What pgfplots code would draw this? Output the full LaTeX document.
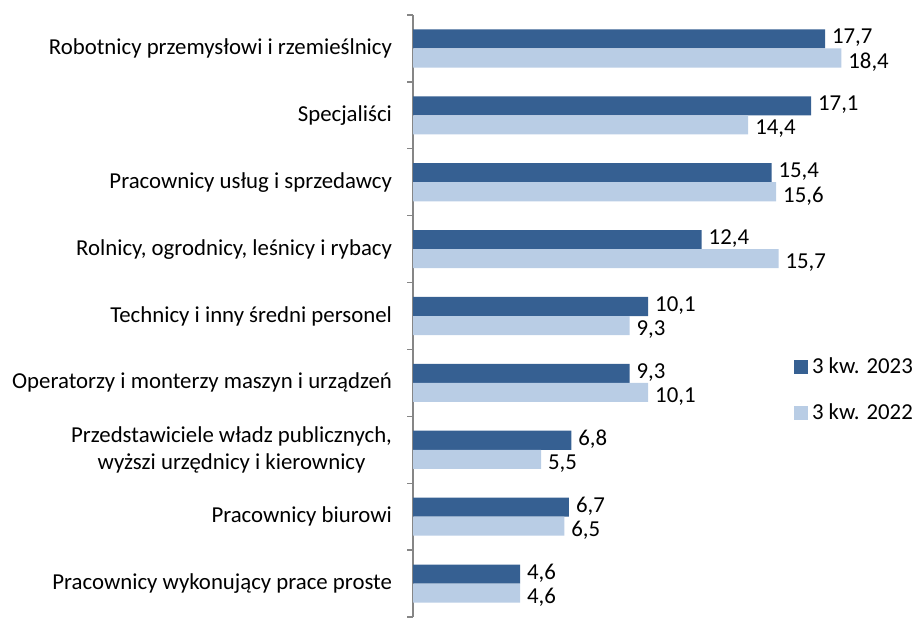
\documentclass[border=0pt]{standalone}
\usepackage{fontspec}
\setmainfont{Carlito}
\usepackage{pgfplots}
\pgfplotsset{compat=1.18}
\definecolor{darkb}{HTML}{366092}
\definecolor{lightb}{HTML}{B9CDE5}
\definecolor{axgray}{HTML}{868686}
\begin{document}
\begin{tikzpicture}[font=\fontsize{11.4}{13.2}\selectfont]
\useasboundingbox (0,0) rectangle (462pt,308.5pt);
\begin{axis}[
  at={(206.5pt,0pt)}, anchor=south west,
  scale only axis, width=232.8pt, height=301pt,
  xbar, xmin=0, xmax=20, ymin=-0.5, ymax=8.5, y dir=reverse,
  axis x line=none, axis y line*=left,
  axis line style={axgray, line width=0.7pt},
  ytick={0,...,8},
  yticklabels={Robotnicy przemysłowi i rzemieślnicy, Specjaliści, Pracownicy usług i sprzedawcy, {Rolnicy, ogrodnicy, leśnicy i rybacy}, Technicy i inny średni personel, Operatorzy i monterzy maszyn i urządzeń, {Przedstawiciele władz publicznych,\\ wyższi urzędnicy i kierownicy}, Pracownicy biurowi, Pracownicy wykonujący prace proste},
  yticklabel style={align=center, anchor=east, xshift=-7pt},
  major tick length=0pt,
  minor ytick={-0.5,0.5,...,8.5},
  minor tick length=3pt, tick align=outside,
  minor tick style={axgray, line width=0.7pt},
  bar width=0.285,
  clip=false,
  nodes near coords,
  /pgf/number format/.cd, use comma, fixed, fixed zerofill, precision=1, assume math mode=true,
  /pgfplots/.cd,
  legend style={at={(axis cs:16.35,4.55)}, anchor=north west, draw=none, fill=none,
    row sep=10pt, font=\fontsize{11.4}{13.2}\selectfont, inner sep=0pt},
  legend cell align=left,
  legend image code/.code={\fill[#1] (0pt,-3.5pt) rectangle (7pt,3.5pt);},
]
\addplot[fill=darkb, draw=none, bar shift=-0.1425,
  every node near coord/.append style={anchor=west, xshift=0pt, yshift=0.5pt, black}]
  coordinates {(17.7,0) (17.1,1) (15.4,2) (12.4,3) (10.1,4) (9.3,5) (6.8,6) (6.7,7) (4.6,8)};
\addplot[fill=lightb, draw=none, bar shift=0.1425,
  every node near coord/.append style={anchor=west, xshift=0pt, yshift=-2pt, black}]
  coordinates {(18.4,0) (14.4,1) (15.6,2) (15.7,3) (9.3,4) (10.1,5) (5.5,6) (6.5,7) (4.6,8)};
\legend{3 kw. 2023, 3 kw. 2022}
\end{axis}
\end{tikzpicture}
\end{document}
